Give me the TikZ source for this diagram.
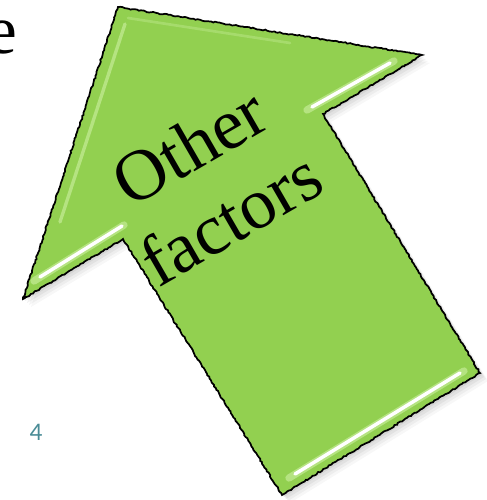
\documentclass[tikz,border=0pt]{standalone}
\usepackage{fontspec}
\setmainfont{Liberation Serif}
\setsansfont{Carlito}
\definecolor{arrowgreen}{RGB}{146,208,80}
\definecolor{paleGreen}{RGB}{196,236,150}
\definecolor{pagenum}{RGB}{74,140,150}
\usetikzlibrary{decorations.pathmorphing}
\newcommand{\arrowshape}{(118,7) -- (422,55) -- (323,114) -- (480,373) -- (282,495) -- (123,239) -- (23,299) -- cycle}

\begin{document}
\begin{tikzpicture}[x=0.75pt,y=-0.75pt,
  rough/.style={decorate,decoration={random steps,segment length=1.6pt,amplitude=0.5pt}},
  glow/.style={paleGreen,line width=5.5pt,line cap=round,opacity=0.7},
  gloss/.style={white,line width=2.6pt,line cap=round}]
  \useasboundingbox (0,0) rectangle (486,500);
  %% soft shadow under the arrow
  \foreach \d/\o in {8/0.03,6/0.04,4/0.05,2/0.06}
    \fill[black,opacity=\o,shift={(\d,\d)}] \arrowshape;
  %% arrow body
  \fill[arrowgreen] \arrowshape;
  %% bevel light along the left edge of the head
  \draw[paleGreen,line width=2.5pt,line cap=round,opacity=0.7] (125,24) -- (60,222);
  \draw[paleGreen,line width=2pt,line cap=round,opacity=0.4] (128,18) -- (290,43);
  %% glossy lines on the lower edges
  \draw[glow] (34,281) -- (124,225);
  \draw[gloss] (40,277) -- (122,226);
  \draw[glow] (307,110) -- (394,61);
  \draw[gloss] (312,107) -- (390,63);
  \draw[glow] (289,478) -- (464,371);
  \draw[gloss] (295,474) -- (460,373);
  %% rough outline
  \draw[rough,line width=1.3pt] \arrowshape;
  %% texts
  \node[rotate=30,align=center,font=\fontsize{54}{62}\selectfont] (words) at (210,182) {Other\\factors};
  \node[anchor=base east,inner sep=0pt,font=\fontsize{52}{60}\selectfont] (cut) at (18,53) {e};
  \node[pagenum,inner sep=0pt,font=\sffamily\fontsize{19}{19}\selectfont] (pg) at (36,432) {4};
\end{tikzpicture}
\end{document}
